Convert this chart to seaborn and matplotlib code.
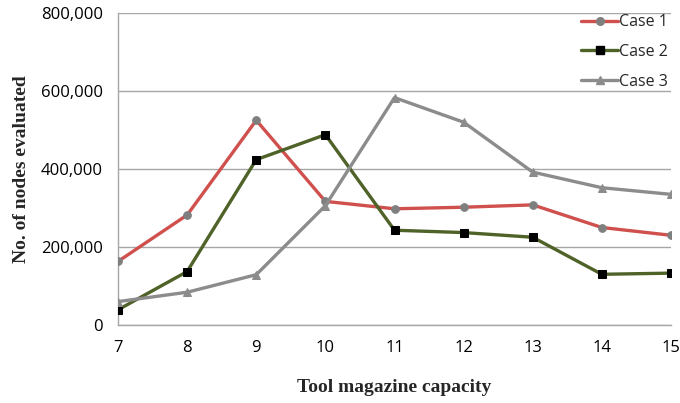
import numpy as np
import pandas as pd
import matplotlib
matplotlib.use("Agg")
import matplotlib.pyplot as plt
import seaborn as sns
from matplotlib.ticker import FuncFormatter
from matplotlib.lines import Line2D

capacity = [7, 8, 9, 10, 11, 12, 13, 14, 15]
case1 = [163000, 282000, 525000, 317000, 298000, 302000, 308000, 250000, 230000]
case2 = [39000, 137000, 424000, 488000, 243000, 237000, 225000, 130000, 133000]
case3 = [60000, 84000, 129000, 306000, 583000, 520000, 392000, 352000, 335000]
series_names = ["Case 1", "Case 2", "Case 3"]
y_ticks = [0, 200000, 400000, 600000, 800000]

df = pd.DataFrame({
    "capacity": capacity * 3,
    "nodes": case1 + case2 + case3,
    "case": [series_names[0]] * 9 + [series_names[1]] * 9 + [series_names[2]] * 9,
})

sns.set_style("white")
plt.rcParams["font.family"] = ["Open Sans", "DejaVu Sans"]

fig = plt.figure(figsize=(6.8, 4.03), dpi=100)
ax = fig.add_axes([118/680, 1 - 325/403, (671-118)/680, (325-13)/403])

line_colors = {"Case 1": "#CF504D", "Case 2": "#4F6228", "Case 3": "#8C8C8C"}
markers = {"Case 1": "o", "Case 2": "s", "Case 3": "^"}
sns.lineplot(data=df, x="capacity", y="nodes", hue="case", style="case",
             palette=line_colors, markers=markers, dashes=False, ax=ax,
             linewidth=2.4, markersize=5.5, legend=False, zorder=3)

mfc = {"Case 1": "#7F7F7F", "Case 2": "#000000", "Case 3": "#8C8C8C"}
for line, name in zip(ax.get_lines(), series_names):
    line.set_markerfacecolor(mfc[name])
    line.set_markeredgecolor(mfc[name])

ax.set_xlim(7, 15)
ax.set_ylim(0, 800000)
ax.set_xticks(capacity)
ax.set_yticks(y_ticks)
ax.yaxis.set_major_formatter(FuncFormatter(lambda v, p: f"{int(v):,}"))
ax.tick_params(axis="both", labelsize=12, colors="#000000", length=0)
ax.tick_params(axis="y", pad=11)
ax.tick_params(axis="x", pad=11)
ax.grid(axis="y", color="#A6A6A6", linewidth=1)
ax.grid(axis="x", visible=False)
for s in ["top", "right"]:
    ax.spines[s].set_visible(False)
for s in ["left", "bottom"]:
    ax.spines[s].set_color("#A6A6A6")
    ax.spines[s].set_linewidth(1)

ax.set_xlabel("Tool magazine capacity", fontsize=14, fontweight="bold",
              family=["Liberation Serif"])
ax.set_ylabel("No. of nodes evaluated", fontsize=14, fontweight="bold",
              family=["Liberation Serif"])
ax.xaxis.set_label_coords(0.5, -(388 - 325) / 312, transform=ax.transAxes)
ax.xaxis.label.set_va("center")
ax.yaxis.set_label_coords(-(118 - 21) / 553, 0.5, transform=ax.transAxes)
ax.yaxis.label.set_va("center")

handles = [Line2D([], [], color=line_colors[n], marker=markers[n], lw=2.4, ms=5.5,
                  markerfacecolor=mfc[n], markeredgecolor=mfc[n]) for n in series_names]
leg = ax.legend(handles, series_names, loc="upper right",
                bbox_to_anchor=(670/680, 1 - 12/403), bbox_transform=fig.transFigure,
                borderaxespad=0, frameon=False, fontsize=11.5, handlelength=2.3,
                handletextpad=0.05, labelspacing=0.85, borderpad=0.15)

fig.savefig("out.png", dpi=100)
